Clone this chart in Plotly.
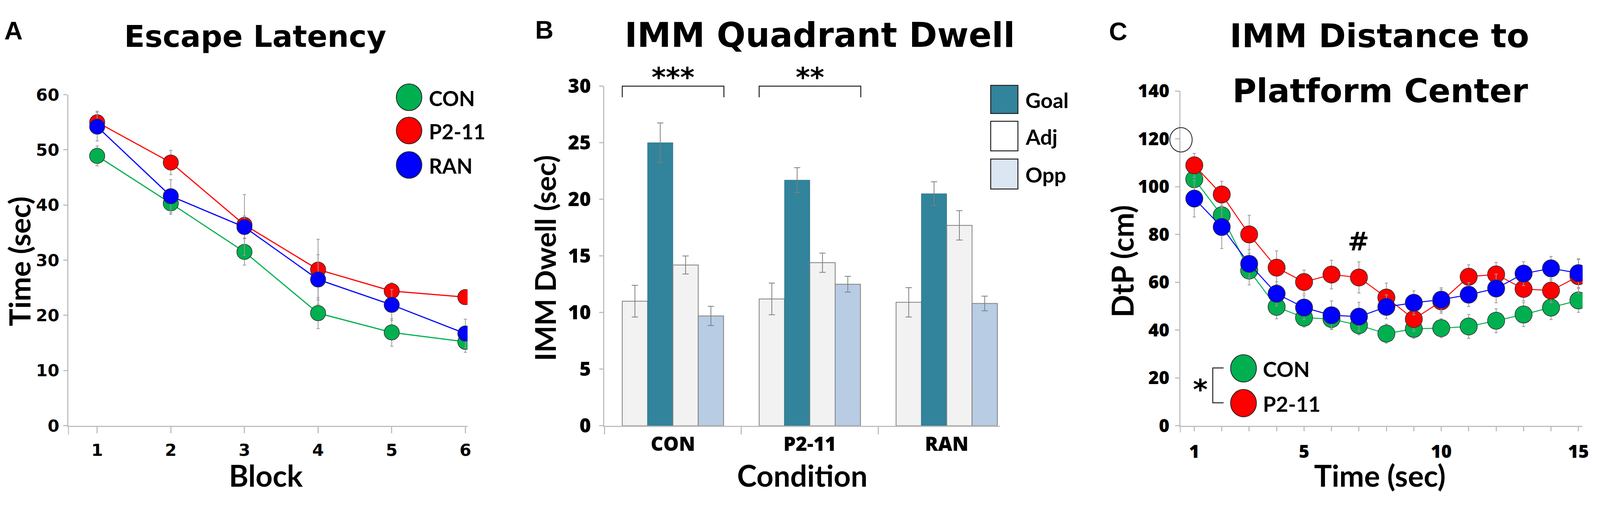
import plotly.graph_objects as go

# reference canvas (coordinates below are measured on it) and the page width the browser offers
REF_W, REF_H = 4564, 1299
PAGE_W, PAGE_H = 4096, 1299

# ---------------- data ----------------
blocks = [1, 2, 3, 4, 5, 6]
con_A = [48.9, 40.3, 31.5, 20.4, 16.9, 15.2]
con_A_err = [1.8, 2.0, 2.4, 2.8, 2.5, 1.9]
p211_A = [55.0, 47.7, 36.4, 28.3, 24.4, 23.3]
p211_A_err = [2.0, 2.2, 5.5, 5.5, 1.5, 1.0]
ran_A = [54.2, 41.6, 36.0, 26.5, 21.9, 16.7]
ran_A_err = [2.6, 3.0, 2.0, 4.5, 2.8, 2.6]

conditions = ["CON", "P2-11", "RAN"]
adjL_B = [11.0, 11.2, 10.9]
adjL_B_err = [1.4, 1.4, 1.3]
goal_B = [25.0, 21.7, 20.5]
goal_B_err = [1.75, 1.1, 1.05]
adjR_B = [14.2, 14.4, 17.7]
adjR_B_err = [0.8, 0.85, 1.3]
opp_B = [9.7, 12.5, 10.8]
opp_B_err = [0.85, 0.7, 0.65]

seconds = list(range(1, 16))
con_C = [103.1, 88.0, 64.9, 49.7, 45.2, 44.6, 42.0, 38.5, 40.5, 40.8, 41.5, 43.9, 46.5, 49.4, 52.4]
con_C_err = [5, 6, 6, 5, 4, 4, 4, 4, 4, 4, 5, 5, 5, 5, 5]
p211_C = [108.9, 96.7, 80.0, 66.1, 60.1, 63.2, 62.0, 53.6, 44.6, 52.0, 62.3, 63.3, 57.2, 56.5, 62.5]
p211_C_err = [5, 5.5, 8, 7, 5, 6, 6.5, 6, 5, 5, 5, 5, 5, 5, 7]
ran_C = [95.0, 83.1, 67.7, 55.2, 49.4, 46.2, 45.6, 49.7, 51.4, 52.7, 54.8, 57.4, 63.6, 65.8, 63.8]
ran_C_err = [7.7, 9, 6, 5, 5, 6, 6, 5, 5, 5, 5, 6, 5, 5, 6]
c_tick_labels = ["1", "", "", "", "5", "", "", "", "", "10", "", "", "", "", "15"]

GREEN, RED, BLUE = "#00B050", "#FF0000", "#0000FF"
TEAL, ADJ, OPP = "#31849B", "#F2F2F2", "#B8CCE4"
AXC = "#BFBFBF"
WIDEF = "DejaVu Sans"
LABF = "Lato"
TICKF2 = "Open Sans"


def px(x):
    return x / REF_W


def py(y):
    return 1 - y / REF_H


fig = go.Figure()

# ---------------- Panel A ----------------
for name, vals, errs, col in [("CON", con_A, con_A_err, GREEN),
                              ("P2-11", p211_A, p211_A_err, RED),
                              ("RAN", ran_A, ran_A_err, BLUE)]:
    fig.add_trace(go.Scatter(
        x=blocks, y=vals, mode="lines+markers", name=name, showlegend=False,
        line=dict(color=col, width=3),
        marker=dict(size=39, color=col, line=dict(color="#2b2b2b", width=1.5)),
        error_y=dict(type="data", array=errs, color="#9a9a9a", thickness=2, width=4),
        xaxis="x", yaxis="y"))

# ---------------- Panel B ----------------
for name, vals, errs, col, lc, lw in [("Adj", adjL_B, adjL_B_err, ADJ, "#7F7F7F", 2),
                                      ("Goal", goal_B, goal_B_err, TEAL, "#2A6F82", 1),
                                      ("Adj ", adjR_B, adjR_B_err, ADJ, "#7F7F7F", 2),
                                      ("Opp", opp_B, opp_B_err, OPP, "#7F7F7F", 2)]:
    fig.add_trace(go.Bar(
        x=conditions, y=vals, name=name, showlegend=False,
        marker=dict(color=col, line=dict(color=lc, width=lw)),
        error_y=dict(type="data", array=errs, color="#7F7F7F", thickness=2, width=8),
        xaxis="x2", yaxis="y2"))

# ---------------- Panel C ----------------
for name, vals, errs, col in [("CON", con_C, con_C_err, GREEN),
                              ("P2-11", p211_C, p211_C_err, RED),
                              ("RAN", ran_C, ran_C_err, BLUE)]:
    fig.add_trace(go.Scatter(
        x=seconds, y=vals, mode="lines+markers", name=name, showlegend=False,
        line=dict(color=col, width=2.5),
        marker=dict(size=44, color=col, line=dict(color="#2b2b2b", width=1.5)),
        error_y=dict(type="data", array=errs, color="#9a9a9a", thickness=2, width=4),
        xaxis="x3", yaxis="y3"))


def axis_common(tsize, fam, weight="bold"):
    return dict(showline=True, linecolor=AXC, linewidth=2.5, showgrid=False, zeroline=False,
                ticks="outside", tickcolor=AXC, tickwidth=2.5,
                tickfont=dict(family=fam, size=tsize, color="black", weight=weight),
                fixedrange=True)


fig.update_layout(
    width=PAGE_W, height=PAGE_H, margin=dict(l=0, r=0, t=0, b=0),
    paper_bgcolor="white", plot_bgcolor="white",
    barmode="group", bargap=0.26, bargroupgap=0,
    xaxis=dict(domain=[px(196), px(1339)], range=[0.61, 6.03], tickvals=blocks, ticklen=17,
               anchor="y", ticklabelstandoff=6, **axis_common(43, WIDEF)),
    yaxis=dict(domain=[py(1114), py(219)], range=[0, 60], tickvals=[0, 10, 20, 30, 40, 50, 60],
               ticklen=10, anchor="x", ticklabelstandoff=2, **axis_common(43, WIDEF)),
    xaxis2=dict(domain=[px(1731), px(2864)], range=[-0.5, 2.39], type="category",
                tickson="boundaries", ticklen=20, anchor="y2", ticklabelstandoff=2,
                **axis_common(50, TICKF2, 800)),
    yaxis2=dict(domain=[py(1114), py(196)], range=[0, 30], tickvals=[0, 5, 10, 15, 20, 25, 30],
                ticklen=11, anchor="x2", ticklabelstandoff=11, **axis_common(50, TICKF2, 800)),
    xaxis3=dict(domain=[px(3380), px(4532)], range=[0.49, 15.15], tickvals=seconds,
                ticktext=c_tick_labels, ticklen=12, anchor="y3", ticklabelstandoff=12,
                **axis_common(46, TICKF2, 800)),
    yaxis3=dict(domain=[py(1114), py(209)], range=[0, 140], tickvals=list(range(0, 141, 20)),
                ticklen=11, anchor="x3", ticklabelstandoff=5, **axis_common(46, TICKF2, 800)),
)

ann = []


def text(x, y, s, size, family=LABF, angle=0, xanchor="center", weight="bold"):
    ann.append(dict(x=px(x), y=py(y), xref="paper", yref="paper", text=s, showarrow=False,
                    xanchor=xanchor, yanchor="middle", textangle=angle,
                    font=dict(family=family, size=size, color="black", weight=weight)))


# titles
text(731, 62, "Escape Latency", 77, family=WIDEF)
text(2347, 58, "IMM Quadrant Dwell", 87, family=WIDEF)
text(3950, 60, "IMM Distance to", 84, family=WIDEF)
text(3953, 209, "Platform Center", 84, family=WIDEF)
# panel letters
text(39, 46, "A", 65, family="Liberation Sans")
text(1559, 44, "B", 65, family="Liberation Sans")
text(3202, 48, "C", 65, family="Liberation Sans")
# axis titles
text(2, 669, "Time (sec)", 75, angle=-90, xanchor="left")
text(762, 1248, "Block", 76)
text(1561, 660, "IMM Dwell (sec)", 73, angle=-90)
text(2298, 1248, "Condition", 76)
text(3214, 669, "DtP (cm)", 76, angle=-90)
text(3952, 1248, "Time (sec)", 76)

shapes = []

# legend A
for yc, col, lab in [(226, GREEN, "CON"), (316, RED, "P2-11"), (409, BLUE, "RAN")]:
    shapes.append(dict(type="circle", xref="paper", yref="paper",
                       x0=px(1135), x1=px(1208), y0=py(yc + 36), y1=py(yc - 36),
                       fillcolor=col, line=dict(color="#222222", width=2)))
    text(1226, yc + 2, lab, 53, xanchor="left")

# legend B
for y0, y1, col, lab in [(194, 270, TEAL, "Goal"), (291, 371, "white", "Adj"),
                         (393, 474, "#DCE6F2", "Opp")]:
    shapes.append(dict(type="rect", xref="paper", yref="paper",
                       x0=px(2837), x1=px(2915), y0=py(y1), y1=py(y0),
                       fillcolor=col, line=dict(color="#222222", width=2.5)))
    text(2934, (y0 + y1) / 2 + 2, lab, 54, xanchor="left")

# significance brackets B
for xa, xb, stars in [(1782, 2073, "***"), (2174, 2465, "**")]:
    shapes.append(dict(type="path", xref="paper", yref="paper",
                       path=f"M {px(xa)} {py(226)} L {px(xa)} {py(196)} L {px(xb)} {py(196)} L {px(xb)} {py(226)}",
                       line=dict(color="#222222", width=2.5)))
    text((xa + xb) / 2, 172, stars, 70, family=WIDEF)

# legend C
for yc, col, lab in [(959, GREEN, "CON"), (1053, RED, "P2-11")]:
    shapes.append(dict(type="circle", xref="paper", yref="paper",
                       x0=px(3524), x1=px(3598), y0=py(yc + 37), y1=py(yc - 37),
                       fillcolor=col, line=dict(color="#222222", width=2)))
    text(3614, yc + 2, lab, 54, xanchor="left")
shapes.append(dict(type="path", xref="paper", yref="paper",
                   path=f"M {px(3504)} {py(958)} L {px(3473)} {py(958)} L {px(3473)} {py(1052)} L {px(3504)} {py(1052)}",
                   line=dict(color="#222222", width=2.5)))
text(3438, 1016, "*", 72, family=WIDEF)
# '#' marker above second 7
text(3890, 616, "#", 66, family=WIDEF)
# small open circle at 120 on C axis
shapes.append(dict(type="circle", xref="paper", yref="paper",
                   x0=px(3350), x1=px(3414), y0=py(374), y1=py(308),
                   line=dict(color="#222222", width=2)))
# y-axis stubs below x-axis
shapes.append(dict(type="line", xref="paper", yref="paper", x0=px(196), x1=px(196),
                   y0=py(1114), y1=py(1138), line=dict(color=AXC, width=2.5)))
shapes.append(dict(type="line", xref="paper", yref="paper", x0=px(3380), x1=px(3380),
                   y0=py(1114), y1=py(1132), line=dict(color=AXC, width=2.5)))

fig.update_layout(annotations=ann, shapes=shapes)

post = "document.body.style.margin='0px';document.body.style.overflow='hidden';"
fig.write_html("out.html", post_script=post, config={"displayModeBar": False})
